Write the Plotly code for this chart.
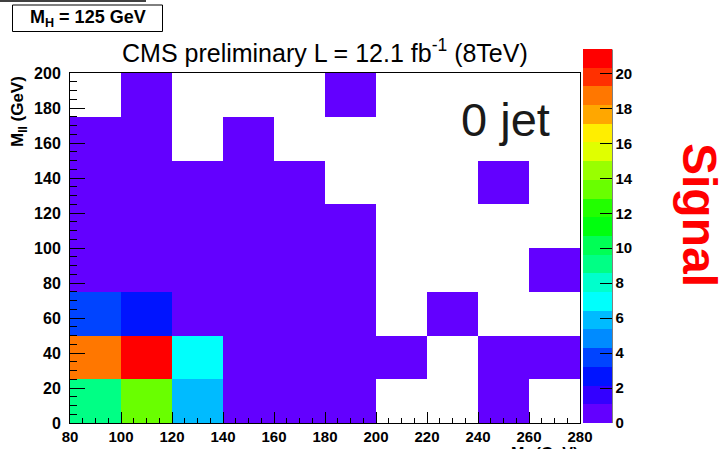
import colorsys
import plotly.graph_objects as go

# Binning of the (M_T, M_ll) signal histogram
mt_edges = [80, 100, 120, 140, 160, 180, 200, 220, 240, 260, 280]
mll_edges = [0, 25, 50, 75, 100, 125, 150, 175, 200]

# Signal yield per bin, rows from low to high M_ll (None = empty bin)
row_0_25 = [9.1, 13.4, 5.9, 0.6, 0.5, 0.4, None, None, 0.2, None]
row_25_50 = [18.7, 21.4, 7.0, 0.9, 0.7, 0.5, 0.3, None, 0.2, 0.1]
row_50_75 = [3.7, 2.6, 0.8, 0.6, 0.4, 0.3, None, 0.2, None, None]
row_75_100 = [0.9, 0.8, 0.6, 0.5, 0.3, 0.2, None, None, None, 0.1]
row_100_125 = [0.7, 0.6, 0.5, 0.4, 0.3, 0.2, None, None, None, None]
row_125_150 = [0.5, 0.4, 0.3, 0.3, 0.2, None, None, None, 0.1, None]
row_150_175 = [0.3, 0.3, None, 0.2, None, None, None, None, None, None]
row_175_200 = [None, 0.1, None, None, None, 0.1, None, None, None, None]

signal = [row_0_25, row_25_50, row_50_75, row_75_100,
          row_100_125, row_125_150, row_150_175, row_175_200]

x_ticks = list(range(80, 281, 20))
y_ticks = list(range(0, 201, 20))
z_ticks = list(range(0, 21, 2))

z_max = 21.4
n_contours = 20
FONT = "Liberation Sans"

# ROOT "pretty" palette: 50 HLS colours from violet to red,
# sampled at 20 contour levels
def pretty_colour(k):
    idx = int((k + 0.99) * 50 / n_contours)
    hue = 280 - (idx + 1) * 280 / 50
    r, g, b = colorsys.hls_to_rgb(hue / 360.0, 0.5, 1.0)
    return "rgb(%d,%d,%d)" % (round(r * 255), round(g * 255), round(b * 255))

colorscale = []
for k in range(n_contours):
    c = pretty_colour(k)
    colorscale.append([k / n_contours, c])
    colorscale.append([(k + 1) / n_contours, c])

# frame geometry in pixels
W, H = 728, 449
L, R, T, B = 70, 580, 73, 423
CB_TOP = 49.5


def px(x):
    return (x - L) / (R - L)


def py(y):
    return (B - y) / (B - T)


fig = go.Figure(go.Heatmap(
    x=mt_edges, y=mll_edges, z=signal,
    zmin=0, zmax=z_max, colorscale=colorscale,
    hoverongaps=False,
    colorbar=dict(
        thickness=29, thicknessmode="pixels",
        len=B - CB_TOP, lenmode="pixels",
        x=px(583), xanchor="left",
        y=0, yanchor="bottom",
        xpad=0, ypad=0, outlinewidth=0,
        tickvals=z_ticks, ticks="inside", ticklen=12,
        tickcolor="black", tickwidth=1,
        tickfont=dict(family=FONT, size=15, color="black", weight="bold"),
    ),
))

axis_common = dict(
    showgrid=False, zeroline=False, showline=True, linecolor="black",
    linewidth=1, mirror=True, tickcolor="black", tickwidth=1,
)

fig.update_xaxes(range=[80, 280], tickvals=x_ticks, ticks="inside", ticklen=11,
                 minor=dict(dtick=5, tick0=80, ticks="inside", ticklen=5,
                            tickcolor="black"),
                 tickfont=dict(family=FONT, size=15, color="black", weight="bold"),
                 **axis_common)
fig.update_yaxes(range=[0, 200], tickvals=y_ticks, ticks="inside", ticklen=15,
                 minor=dict(dtick=5, tick0=0, ticks="inside", ticklen=7,
                            tickcolor="black"),
                 tickfont=dict(family=FONT, size=16, color="black", weight="bold"),
                 ticklabelstandoff=5,
                 **axis_common)

annotations = [
    dict(text="CMS preliminary L = 12.1 fb<sup>-1</sup> (8TeV)",
         x=px(325), y=py(51), xanchor="center", yanchor="middle",
         font=dict(family=FONT, size=25, color="black")),
    dict(text="0 jet", x=px(459), y=py(119), xanchor="left", yanchor="middle",
         font=dict(family=FONT, size=47, color="#1a1a1a")),
    dict(text="Signal", x=px(700), y=py(215), xanchor="center", yanchor="middle",
         textangle=90,
         font=dict(family=FONT, size=48, color="red", weight="bold")),
    dict(text="M<sub>ll</sub> (GeV)", x=px(18.5), y=py(74), xanchor="center",
         yanchor="top", textangle=-90,
         font=dict(family=FONT, size=17, color="black", weight="bold")),
    dict(text="M<sub>T</sub> (GeV)", x=px(580), y=py(443), xanchor="right",
         yanchor="top",
         font=dict(family=FONT, size=16, color="black", weight="bold")),
    dict(text="M<sub>H</sub> = 125 GeV", x=px(87.5), y=py(18.5), xanchor="center",
         yanchor="middle",
         font=dict(family=FONT, size=18, color="black", weight="bold")),
]
for a in annotations:
    a.update(xref="paper", yref="paper", showarrow=False)

shapes = [
    # label box
    dict(type="rect", x0=px(12.5), x1=px(162.5), y0=py(31.5), y1=py(5),
         line=dict(color="black", width=1), fillcolor="rgba(0,0,0,0)"),
    # edge of a box above the page
    dict(type="line", x0=px(0), x1=px(146), y0=py(1), y1=py(1),
         line=dict(color="black", width=1.5)),
    # palette axis line
    dict(type="line", x0=px(612), x1=px(612), y0=py(CB_TOP), y1=py(B),
         line=dict(color="black", width=1)),
]
for s in shapes:
    s.update(xref="paper", yref="paper")

fig.update_layout(
    width=W, height=H,
    margin=dict(l=L, r=W - R, t=T, b=H - B, pad=0, autoexpand=False),
    paper_bgcolor="white", plot_bgcolor="white",
    annotations=annotations, shapes=shapes,
    font=dict(family=FONT, color="black"),
)

fig.write_html("out.html")
